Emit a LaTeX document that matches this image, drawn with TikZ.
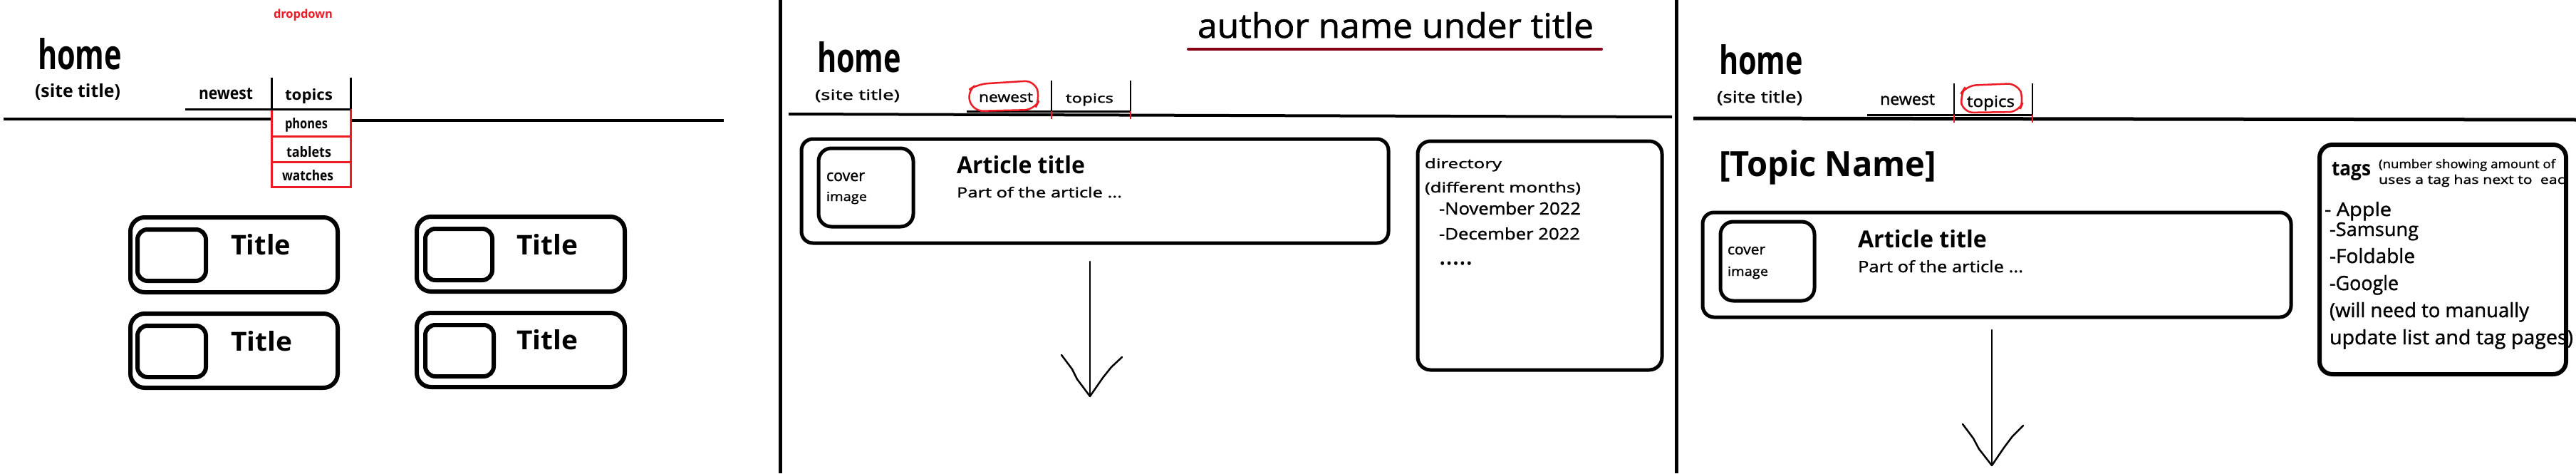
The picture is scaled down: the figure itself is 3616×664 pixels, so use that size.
\documentclass[tikz,border=0pt]{standalone}
\usepackage{fontspec}
\usepackage{graphicx}
\setmainfont{Open Sans}
\newfontfamily\mdf[FakeBold=1.3]{Open Sans}
\definecolor{pred}{RGB}{237,28,36}
\definecolor{dred}{RGB}{136,0,21}
\newcommand{\rb}[3]{\resizebox{#1pt}{#2pt}{#3}}
\tikzset{
  txt/.style={inner sep=0pt, outer sep=0pt, anchor=base west, font=\fontsize{20}{24}\selectfont},
  mtxt/.style={txt, font=\fontsize{20}{24}\mdf},
  rbox/.style={draw=black, line width=#1, rounded corners=16pt, inner sep=0pt, outer sep=0pt},
  rbox/.default=5pt,
  rule/.style={line width=#1, draw=black},
  rule/.default=3pt,
  dditem/.style={draw=pred, line width=3pt, inner sep=0pt, minimum width=111pt},
  loop/.style={draw=pred, line width=2.5pt, rounded corners=14pt},
  tick/.style={draw=pred, line width=1.5pt},
  thin/.style={line width=2.5pt, draw=black, line cap=round, line join=round}
}
\begin{document}
\begin{tikzpicture}[x=1pt,y=-1pt]
\useasboundingbox (0,0) rectangle (3616,664);
\fill[white] (0,0) rectangle (3616,664);

% panel separators
\coordinate (s1t) at (1095,0); \coordinate (s1b) at (1095,664);
\coordinate (s2t) at (2353,0); \coordinate (s2b) at (2353,664);
\draw[rule=5pt] (s1t) -- (s1b);
\draw[rule=5pt] (s2t) -- (s2b);

% ================= PANEL 1 =================
\node[txt, text=pred] (dd) at (384,25.5) {\rb{83}{12.5}{\bfseries dropdown}};
\node[txt] (h1) at (53,97) {\rb{118}{44}{\bfseries home}};
\node[txt] (st1) at (49,136) {\rb{120}{19}{\bfseries (site title)}};
\node[txt] (nw1) at (279,139) {\rb{76}{16}{\bfseries newest}};
\node[txt] (tp1) at (400,140) {\rb{67}{16}{\bfseries topics}};

\coordinate (m1a) at (5,167); \coordinate (m1b) at (381,167);
\coordinate (m1c) at (492,169); \coordinate (m1d) at (1016,169);
\draw[rule=3.5pt] (m1a) -- (m1b);
\draw[rule=3.5pt] (m1c) -- (m1d);
\coordinate (u1a) at (260,153); \coordinate (u1b) at (492,153);
\coordinate (v1a) at (381,109); \coordinate (v1b) at (381,153);
\coordinate (v1c) at (492,109); \coordinate (v1d) at (492,153);

% dropdown items
\node[dditem, minimum height=38pt] (ddp) at (436.5,172) {};
\node[dditem, minimum height=36pt] (ddt) at (436.5,209) {};
\node[dditem, minimum height=35pt] (ddw) at (436.5,244.5) {};
\draw[rule] (u1a) -- (u1b);
\draw[rule] (v1a) -- (v1b);
\draw[rule] (v1c) -- (v1d);
\node[txt] (ph) at (400,180) {\rb{60}{15}{\bfseries phones}};
\node[txt] (tb) at (402,220) {\rb{63}{15}{\bfseries tablets}};
\node[txt] (wt) at (396,253) {\rb{72}{15}{\bfseries watches}};

% cards
\node[rbox=6pt, rounded corners=20pt, minimum width=291pt, minimum height=105pt] (c1) at (328.5,357.5) {};
\node[rbox=6pt, rounded corners=20pt, minimum width=292pt, minimum height=105pt] (c2) at (731,356.5) {};
\node[rbox=6pt, rounded corners=20pt, minimum width=291pt, minimum height=104pt] (c3) at (328.5,492) {};
\node[rbox=6pt, rounded corners=20pt, minimum width=292pt, minimum height=104pt] (c4) at (731,491) {};
\node[rbox=6pt, rounded corners=14pt, minimum width=96pt, minimum height=72pt] (i1) at (241,358) {};
\node[rbox=6pt, rounded corners=14pt, minimum width=94pt, minimum height=72pt] (i2) at (644,357) {};
\node[rbox=6pt, rounded corners=14pt, minimum width=96pt, minimum height=72pt] (i3) at (241,493) {};
\node[rbox=6pt, rounded corners=14pt, minimum width=96pt, minimum height=72pt] (i4) at (645,492) {};
\node[txt] (t1) at (324,357) {\rb{84}{29}{\bfseries Title}};
\node[txt] (t2) at (725,357) {\rb{86}{29}{\bfseries Title}};
\node[txt] (t3) at (324,492) {\rb{86}{28}{\bfseries Title}};
\node[txt] (t4) at (725,490) {\rb{86}{28}{\bfseries Title}};

% ================= PANEL 2 =================
\node[txt] (h2) at (1147,101) {\rb{118}{43}{\bfseries home}};
\node[mtxt] (st2) at (1144,140) {\rb{119}{15}{(site title)}};
\node[mtxt] (nw2) at (1374,143) {\rb{76}{13}{newest}};
\node[mtxt] (tp2) at (1496,144) {\rb{67}{13}{topics}};
\node[mtxt] (au) at (1681,53) {\rb{556}{36}{author name under title}};
\coordinate (aua) at (1668,69); \coordinate (aub) at (2248,69);
\draw[line width=4pt, draw=dred, line cap=round] (aua) -- (aub);

\coordinate (m2a) at (1107,160); \coordinate (m2b) at (2347,164);
\draw[rule=4pt] (m2a) -- (m2b);
\coordinate (u2a) at (1357,156); \coordinate (u2b) at (1587,156);
\draw[rule] (u2a) -- (u2b);
\coordinate (v2a) at (1476,113); \coordinate (v2b) at (1476,156); \coordinate (v2bb) at (1476,167);
\coordinate (v2c) at (1587,113); \coordinate (v2d) at (1587,156); \coordinate (v2dd) at (1587,167);
\draw[rule=2.5pt] (v2a) -- (v2b);
\draw[rule=2.5pt] (v2c) -- (v2d);
\draw[tick] (v2b) -- (v2bb);
\draw[tick] (v2d) -- (v2dd);
\draw[loop] (1372,118) -- (1452,113) -- (1460,138) -- (1452,154) -- (1366,156) -- (1357,128) -- cycle;

\node[rbox, minimum width=824pt, minimum height=146pt] (ab2) at (1537,268) {};
\node[rbox, rounded corners=18pt, minimum width=133pt, minimum height=110pt] (cv2) at (1215.5,263) {};
\node[mtxt] (co2) at (1160,254) {\rb{54}{12}{cover}};
\node[mtxt] (im2) at (1160,282) {\rb{57}{13}{image}};
\node[txt] (at2) at (1343,243) {\rb{180}{25}{\bfseries Article title}};
\node[mtxt] (pa2) at (1343,277) {\rb{232}{15}{Part of the article ...}};

\coordinate (ar2a) at (1530,367); \coordinate (ar2t) at (1530,556);
\coordinate (ar2l) at (1490,498); \coordinate (ar2r) at (1575,501);
\draw[thin] (ar2a) -- (ar2t);
\draw[thin] (ar2l) -- (1505,518) -- (1512,532) -- (ar2t);
\draw[thin] (ar2r) -- (1560,515) -- (1548,530) -- (ar2t);

\node[rbox, rounded corners=18pt, minimum width=343pt, minimum height=321pt] (dir) at (2161.5,358.5) {};
\node[mtxt] (d1) at (2000,236) {\rb{108}{14}{directory}};
\node[mtxt] (d2) at (2000,270) {\rb{219}{15}{(different months)}};
\node[mtxt] (d3) at (2020,301) {\rb{199}{18}{-November 2022}};
\node[mtxt] (d4) at (2020,336) {\rb{198}{17}{-December 2022}};
\node[mtxt] (d5) at (2020,371) {\resizebox{47pt}{!}{.....}};

% ================= PANEL 3 =================
\node[txt] (h3) at (2413,104) {\rb{118}{42}{\bfseries home}};
\node[mtxt] (st3) at (2410,144) {\rb{120}{17}{(site title)}};
\node[mtxt] (nw3) at (2639,147) {\rb{77}{15}{newest}};
\node[mtxt] (tp3) at (2761,150) {\rb{67}{16}{topics}};

\coordinate (m3a) at (2377,166); \coordinate (m3b) at (3616,168);
\draw[rule=5pt] (m3a) -- (m3b);
\coordinate (u3a) at (2621,161); \coordinate (u3b) at (2853,161);
\draw[rule] (u3a) -- (u3b);
\coordinate (v3a) at (2743,117); \coordinate (v3b) at (2743,161); \coordinate (v3bb) at (2743,172);
\coordinate (v3c) at (2853,117); \coordinate (v3d) at (2853,161); \coordinate (v3dd) at (2853,172);
\draw[rule=2pt] (v3a) -- (v3b);
\draw[rule=2pt] (v3c) -- (v3d);
\draw[tick] (v3b) -- (v3bb);
\draw[tick] (v3d) -- (v3dd);
\draw[loop] (2760,120) -- (2832,117) -- (2841,140) -- (2834,157) -- (2756,158) -- (2751,134) -- cycle;

\node[txt] (tn) at (2413,247) {\rb{305}{37}{\bfseries [Topic Name]}};

\node[rbox, minimum width=826pt, minimum height=147pt] (ab3) at (2803,371.5) {};
\node[rbox, rounded corners=18pt, minimum width=132pt, minimum height=111pt] (cv3) at (2481,366.5) {};
\node[mtxt] (co3) at (2425,357) {\rb{53}{11}{cover}};
\node[mtxt] (im3) at (2425,387) {\rb{57}{13}{image}};
\node[txt] (at3) at (2608,347) {\rb{181}{25}{\bfseries Article title}};
\node[mtxt] (pa3) at (2608,382) {\rb{232}{17}{Part of the article ...}};

\coordinate (ar3a) at (2796,463); \coordinate (ar3t) at (2796,653);
\coordinate (ar3l) at (2755,595); \coordinate (ar3r) at (2840,597);
\draw[thin] (ar3a) -- (ar3t);
\draw[thin] (ar3l) -- (2770,615) -- (2778,630) -- (ar3t);
\draw[thin] (ar3r) -- (2825,612) -- (2813,628) -- (ar3t);

\node[rbox=6pt, rounded corners=18pt, minimum width=346pt, minimum height=322pt] (tg) at (3429,364) {};
\node[txt] (tg0) at (3273,246) {\rb{55}{19}{\bfseries tags}};
\node[mtxt] (tg1) at (3339,236) {\rb{248}{13}{(number showing amount of}};
\begin{scope}
\clip (3330,244) rectangle (3603,275);
\node[mtxt] (tg2) at (3339,258) {\rb{274}{13}{uses a tag has next to\ \ each}};
\end{scope}
\node[mtxt] (tg3) at (3263,303) {\rb{94}{20}{- Apple}};
\node[mtxt] (tg4) at (3270,331) {\rb{125}{19}{-Samsung}};
\node[mtxt] (tg5) at (3270,369) {\rb{120}{21}{-Foldable}};
\node[mtxt] (tg6) at (3270,407) {\rb{97}{21}{-Google}};
\node[mtxt] (tg7) at (3270,445) {\rb{280}{21}{(will need to manually}};
\node[mtxt] (tg8) at (3270,483) {\rb{342}{21}{update list and tag pages)}};
\end{tikzpicture}
\end{document}
